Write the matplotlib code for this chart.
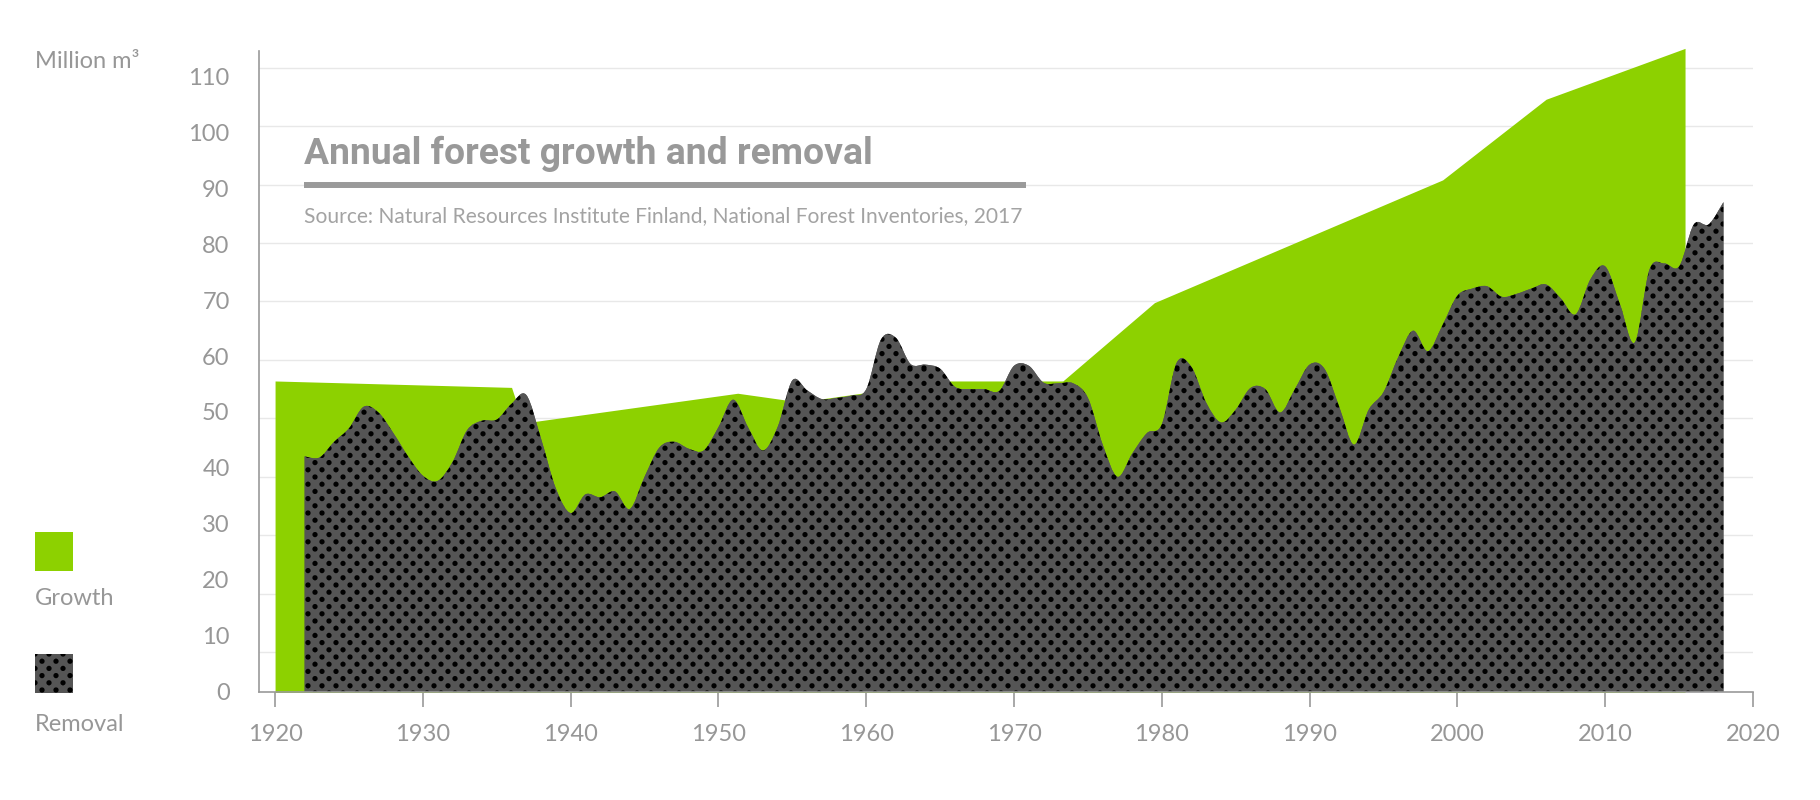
import numpy as np
import matplotlib
matplotlib.use("Agg")
import matplotlib.pyplot as plt
from matplotlib.path import Path
from matplotlib.patches import PathPatch, Rectangle
from matplotlib.lines import Line2D

# growth: inventory-based, straight segments between readings
growth_years = [1920.0, 1936.0, 1936.8, 1951.3, 1955.5, 1965.5, 1973.3, 1979.5, 1999.0, 2006.0, 2015.4]
growth_values = [56.4, 55.3, 49.2, 54.3, 52.8, 56.4, 56.4, 69.8, 90.8, 104.6, 113.3]

# removal: annual values 1922-2018
removal_years = list(range(1922, 2019))
removal_values = [
    43.5, 43.3, 46.0, 48.3, 52.0, 51.0, 47.5, 43.5,                    # 1922-1929
    40.2, 39.3, 42.5, 48.0, 49.6, 49.8, 52.5, 54.0, 46.5, 38.0,        # 1930s
    33.8, 37.0, 36.5, 37.5, 34.5, 40.0, 45.0, 46.0, 44.8, 44.5,        # 1940s
    48.5, 53.2, 48.5, 44.5, 48.5, 56.5, 54.8, 53.3, 53.5, 53.9,        # 1950s
    55.0, 63.5, 63.8, 59.3, 59.2, 58.5, 55.4, 55.0, 55.0, 54.7,        # 1960s
    59.0, 59.0, 56.1, 56.0, 56.0, 53.5, 45.5, 40.0, 44.0, 47.5,        # 1970s
    49.0, 59.5, 58.8, 52.7, 49.3, 51.5, 55.2, 55.0, 51.0, 55.0,        # 1980s
    59.2, 58.5, 52.0, 45.5, 51.5, 54.5, 60.5, 65.0, 61.5, 66.0,        # 1990s
    71.0, 72.2, 72.6, 70.8, 71.3, 72.2, 72.9, 70.5, 67.8, 73.8,        # 2000s
    76.0, 69.5, 63.0, 75.5, 76.5, 76.0, 83.2, 83.2, 87.0,              # 2010-2018
]

x_ticks = list(range(1920, 2021, 10))
y_labels = list(range(0, 111, 10))

GREEN = "#8dd100"
GRAY_TXT = "#979797"
AXIS_GRAY = "#9a9a9a"
DOT_BG = 0x55 / 255

W, H = 1820, 800
DPI = 100

plt.rcParams["font.family"] = ["Lato", "DejaVu Sans"]


def dot_texture(w, h, rx=14.0, ry=7.2, r=2.6):
    # staggered black dots on dark grey, antialiased by distance
    px = np.arange(w) + 0.5
    py = np.arange(h) + 0.5
    X, Y = np.meshgrid(px, py)
    d = np.full(X.shape, 1e9)
    k0 = np.floor(Y / ry)
    for dk in (-1, 0, 1, 2):
        k = k0 + dk
        off = (k % 2) * rx / 2
        m = np.round((X - off) / rx)
        dd = np.hypot(X - (m * rx + off), Y - k * ry)
        d = np.minimum(d, dd)
    a = np.clip(r + 0.5 - d, 0, 1)
    v = DOT_BG * (1 - a)
    return np.dstack([v, v, v])


fig = plt.figure(figsize=(W / DPI, H / DPI), dpi=DPI)
ax_rect = [0.1422, 0.13538, 0.8210, 0.80925]
ax = fig.add_axes(ax_rect)

y_bottom = 3.24
x_lim = (1918.9, 2020)
y_lim = (y_bottom, 114)

# growth area
ax.fill_between(growth_years, growth_values, 0, color=GREEN, lw=0, zorder=2)


def smooth_area(xs, ys, base):
    xs = np.asarray(xs, float)
    ys = np.asarray(ys, float)
    xp = np.concatenate([[xs[0]], xs, [xs[-1]]])
    yp = np.concatenate([[ys[0]], ys, [ys[-1]]])
    verts = [(xs[0], base), (xs[0], ys[0])]
    codes = [Path.MOVETO, Path.LINETO]
    for i in range(len(xs) - 1):
        p0 = np.array([xp[i], yp[i]])
        p1 = np.array([xp[i + 1], yp[i + 1]])
        p2 = np.array([xp[i + 2], yp[i + 2]])
        p3 = np.array([xp[i + 3], yp[i + 3]])
        c1 = p1 + (p2 - p0) / 6
        c2 = p2 - (p3 - p1) / 6
        verts += [tuple(c1), tuple(c2), tuple(p2)]
        codes += [Path.CURVE4] * 3
    verts += [(xs[-1], base), (xs[-1], base)]
    codes += [Path.LINETO, Path.CLOSEPOLY]
    return Path(verts, codes)


removal_patch = PathPatch(smooth_area(removal_years, removal_values, 0),
                          facecolor="#555555", lw=0, zorder=3)
ax.add_patch(removal_patch)

# dotted texture clipped to the removal area
aw = int(round(ax_rect[2] * W))
ah = int(round(ax_rect[3] * H))
tex = ax.imshow(dot_texture(aw, ah), extent=(*x_lim, *y_lim), origin="upper",
                aspect="auto", interpolation="nearest", zorder=3.1)
tex.set_clip_path(removal_patch)

ax.set_xlim(*x_lim)
ax.set_ylim(*y_lim)

# grid + axes
ax.set_yticks(range(10, 111, 10))
ax.grid(axis="y", color="#e8e8e8", lw=1.0)
ax.set_axisbelow(True)
ax.tick_params(axis="y", length=0, labelleft=False)
ax.set_xticks(x_ticks)
ax.tick_params(axis="x", length=11, width=1.2, color=AXIS_GRAY,
               pad=12, labelsize=17, labelcolor=GRAY_TXT)
for s in ["top", "right"]:
    ax.spines[s].set_visible(False)
for s in ["left", "bottom"]:
    ax.spines[s].set_color(AXIS_GRAY)
    ax.spines[s].set_linewidth(1.2)
    ax.spines[s].set_zorder(5)
ax.spines["left"].set_bounds(y_bottom, 112.9)


# y labels sit on their own scale (they don't line up with the grid)
def to_label(d):
    return (np.asarray(d, float) - 3.26) / 0.9567


def to_data(l):
    return 3.26 + 0.9567 * np.asarray(l, float)


sec = ax.secondary_yaxis("left", functions=(to_label, to_data))
sec.set_yticks(y_labels)
sec.tick_params(length=0, pad=21, labelsize=17, labelcolor=GRAY_TXT)
sec.spines["left"].set_visible(False)

# title block
fig.text(304 / W, 1 - 164 / H, "Annual forest growth and removal",
         family=["Roboto", "DejaVu Sans"], weight="bold", fontsize=26.8,
         color="#999999", va="baseline", ha="left")
fig.add_artist(Line2D([304 / W, 1026 / W], [1 - 184.5 / H] * 2,
                      transform=fig.transFigure, color="#9a9a9a", lw=4.3,
                      solid_capstyle="butt"))
fig.text(304 / W, 1 - 222.5 / H,
         "Source: Natural Resources Institute Finland, National Forest Inventories, 2017",
         fontsize=15.1, color="#a3a3a3", va="baseline", ha="left")

fig.text(35 / W, 1 - 68.5 / H, "Million m³", fontsize=17,
         color=GRAY_TXT, va="baseline", ha="left")

# legend
fig.add_artist(Rectangle((35 / W, 1 - 571 / H), 38 / W, 39 / H,
                         transform=fig.transFigure, facecolor=GREEN, lw=0))
fig.text(35 / W, 1 - 605 / H, "Growth", fontsize=17,
         color=GRAY_TXT, va="baseline", ha="left")
sw = fig.add_axes([35 / W, 1 - 693 / H, 38 / W, 39 / H])
sw.imshow(dot_texture(38, 39), aspect="auto", interpolation="nearest")
sw.set_axis_off()
fig.text(35 / W, 1 - 731 / H, "Removal", fontsize=17,
         color=GRAY_TXT, va="baseline", ha="left")

fig.savefig("out.png", dpi=DPI)
